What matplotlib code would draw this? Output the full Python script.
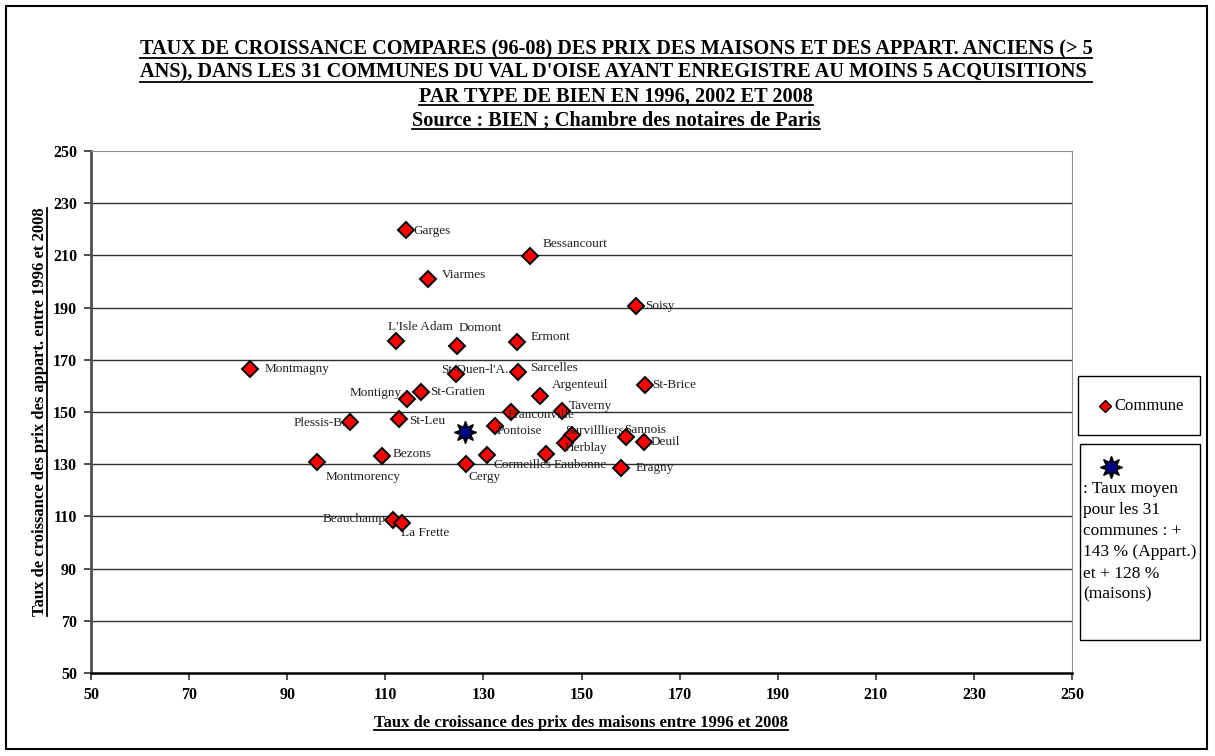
import matplotlib.pyplot as plt
from matplotlib.lines import Line2D
from matplotlib.patches import Rectangle

plt.rcParams["font.family"] = ["Liberation Serif", "DejaVu Serif"]

# communes du Val d'Oise : croissance maisons (x) / appart. (y), 1996-2008
communes = [
    "Garges", "Bessancourt", "Viarmes", "Soisy", "L'Isle Adam", "Domont",
    "Ermont", "Montmagny", "St-Ouen-l'A.", "Sarcelles", "St-Brice",
    "Argenteuil", "Montigny", "St-Gratien", "Taverny", "Franconville",
    "Plessis-B.", "St-Leu", "Pontoise", "Survillliers", "Herblay",
    "Sannois", "Deuil", "Cormeilles", "Eaubonne", "Bezons", "Montmorency",
    "Cergy", "Eragny", "Beauchamp", "La Frette",
]
maisons = [
    114.2, 139.5, 118.7, 161.1, 112.2, 124.6,
    136.9, 82.4, 124.4, 137.1, 163.0,
    141.5, 114.4, 117.3, 146.0, 135.6,
    102.8, 112.8, 132.4, 148.1, 146.6,
    159.1, 162.7, 130.7, 142.8, 109.3, 96.1,
    126.5, 158.1, 111.6, 113.4,
]
appart = [
    219.7, 209.8, 201.0, 190.6, 177.2, 175.3,
    176.8, 166.5, 164.6, 165.3, 160.3,
    156.1, 155.0, 157.7, 150.4, 150.0,
    146.2, 147.3, 144.6, 141.2, 138.1,
    140.4, 138.5, 133.5, 133.9, 133.1, 130.8,
    130.1, 128.5, 108.6, 107.5,
]
moyenne_maisons = 126.3
moyenne_appart = 142.4

x_ticks = list(range(50, 251, 20))
y_ticks = list(range(50, 251, 20))

# placement des etiquettes (pixels, ancrage horizontal)
label_pos = {
    "Garges": (8, 1, "left"), "Bessancourt": (13, -12, "left"),
    "Viarmes": (14, -4, "left"), "Soisy": (9, 0, "left"),
    "L'Isle Adam": (-8, -14, "left"), "Domont": (2, -18, "left"),
    "Ermont": (13, -5, "left"), "Montmagny": (15, 0, "left"),
    "St-Ouen-l'A.": (-15, -4, "left"), "Sarcelles": (12, -4, "left"),
    "St-Brice": (7, 0, "left"), "Argenteuil": (12, -11, "left"),
    "Montigny": (-5, -6, "right"), "St-Gratien": (9, 0, "left"),
    "Taverny": (7, -5, "left"), "Franconville": (-3, 3, "left"),
    "Plessis-B.": (-4, 1, "right"), "St-Leu": (10, 2, "left"),
    "Pontoise": (1, 5, "left"), "Survillliers": (-7, -4, "left"),
    "Herblay": (0, 5, "left"), "Sannois": (-2, -7, "left"),
    "Deuil": (7, 0, "left"), "Cormeilles": (7, 10, "left"),
    "Eaubonne": (7, 11, "left"), "Bezons": (11, -2, "left"),
    "Montmorency": (8, 15, "left"), "Cergy": (2, 13, "left"),
    "Eragny": (14, 0, "left"), "Beauchamp": (-8, -1, "right"),
    "La Frette": (-1, 10, "left"),
}

W, H = 1215, 756
fig = plt.figure(figsize=(W / 100, H / 100), dpi=100)
ax = fig.add_axes([91 / W, 1 - 673 / H, (1072 - 91) / W, (673 - 151) / H])

for v in y_ticks[1:-1]:
    ax.axhline(v, color="#303030", lw=1.0, zorder=1)

ax.plot(maisons, appart, "D", color="red", ms=8.5, mec="black", mew=1.4,
        zorder=3, label="Commune")
for name, x, y in zip(communes, maisons, appart):
    dx, dy, ha = label_pos[name]
    ax.annotate(name, (x, y), xytext=(dx * 0.72, -dy * 0.72),
                textcoords="offset points", ha=ha, va="center",
                fontsize=9.5, color="#222222", zorder=4)

ax.plot(moyenne_maisons, moyenne_appart, marker=(8, 1, 0), color="black",
        ms=16, zorder=5)
ax.plot(moyenne_maisons, moyenne_appart, "o", color="#000080", ms=8,
        mec="#000040", mew=0.8, zorder=6)

ax.set_xlim(50, 250)
ax.set_ylim(50, 250)
ax.set_xticks(x_ticks)
ax.set_yticks(y_ticks)
ax.tick_params(direction="out", length=5, width=1.2, labelsize=11.5,
               pad=5, color="#303030")
for t in ax.get_xticklabels() + ax.get_yticklabels():
    t.set_fontweight("bold")
ax.spines["left"].set_color("#505050")
ax.spines["left"].set_linewidth(2)
ax.spines["bottom"].set_color("black")
ax.spines["bottom"].set_linewidth(1.8)
ax.spines["top"].set_color("#909090")
ax.spines["right"].set_color("#909090")

ylab = fig.text(40 / W, 1 - 412 / H,
                "Taux de croissance des prix des appart. entre 1996 et 2008",
                rotation=90, ha="center", va="center", fontsize=12,
                fontweight="bold")
xlab = fig.text(581 / W, 1 - 723 / H,
                "Taux de croissance des prix des maisons entre 1996 et 2008",
                ha="center", va="center", fontsize=12, fontweight="bold")

title_lines = [
    "TAUX DE CROISSANCE COMPARES (96-08) DES PRIX DES MAISONS ET DES APPART. ANCIENS (> 5",
    "ANS), DANS LES 31 COMMUNES DU VAL D'OISE AYANT ENREGISTRE AU MOINS 5 ACQUISITIONS ",
    "PAR TYPE DE BIEN EN 1996, 2002 ET 2008",
    "Source : BIEN ; Chambre des notaires de Paris",
]
titles = []
for i, line in enumerate(title_lines):
    titles.append(fig.text(616 / W, 1 - (49 + 23.7 * i) / H, line,
                           ha="center", va="center", fontsize=14.6,
                           fontweight="bold"))

# legende : boite "Commune"
fig.add_artist(Rectangle((1078 / W, 1 - 435 / H), 122 / W, 59 / H,
                         transform=fig.transFigure, fill=False,
                         ec="black", lw=1))
fig.add_artist(Line2D([1105 / W], [1 - 406 / H], marker="D", color="red",
                      mec="black", mew=1, ms=6, transform=fig.transFigure))
fig.text(1114 / W, 1 - 406 / H, "Commune", ha="left", va="center",
         fontsize=12)

# legende : taux moyen
fig.add_artist(Rectangle((1080 / W, 1 - 640 / H), 120 / W, 196 / H,
                         transform=fig.transFigure, fill=False,
                         ec="black", lw=1))
fig.add_artist(Line2D([1111 / W], [1 - 467 / H], marker=(8, 1, 0),
                      color="black", ms=16, transform=fig.transFigure))
fig.add_artist(Line2D([1111 / W], [1 - 467 / H], marker="o",
                      color="#000080", ms=8, mec="#000040", mew=0.8,
                      transform=fig.transFigure))
fig.text(1083 / W, 1 - 481 / H,
         ": Taux moyen\npour les 31\ncommunes : +\n143 % (Appart.)\net + 128 %\n(maisons)",
         ha="left", va="top", fontsize=12.5, linespacing=1.43)

# cadre general
fig.add_artist(Rectangle((6 / W, 1 - 749 / H), 1201 / W, 743 / H,
                         transform=fig.transFigure, fill=False,
                         ec="black", lw=1.5))

# soulignement des titres
fig.canvas.draw()
inv = fig.transFigure.inverted()
for t in titles + [xlab]:
    bb = t.get_window_extent()
    (x0, y0), (x1, _) = inv.transform([(bb.x0, bb.y0 + 1), (bb.x1, bb.y0)])
    fig.add_artist(Line2D([x0, x1], [y0, y0], color="black", lw=1.3,
                          transform=fig.transFigure))
bb = ylab.get_window_extent()
(x0, y0), (_, y1) = inv.transform([(bb.x1 - 1, bb.y0), (bb.x1, bb.y1)])
fig.add_artist(Line2D([x0, x0], [y0, y1], color="black", lw=1.3,
                      transform=fig.transFigure))

fig.savefig("out.png", dpi=100)
